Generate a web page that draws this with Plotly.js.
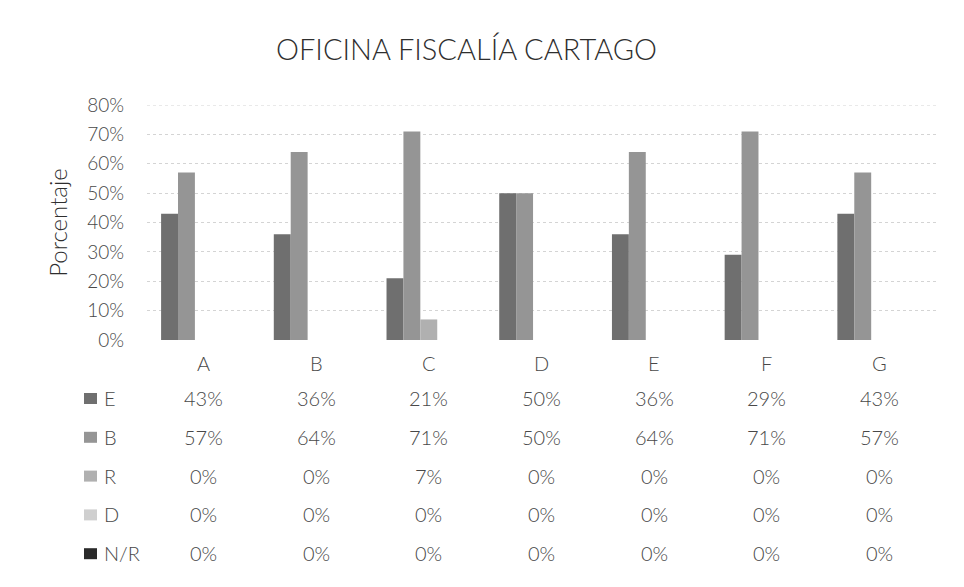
<!DOCTYPE html>
<html>
<head>
<meta charset="utf-8">
<script src="https://cdn.plot.ly/plotly-3.0.1.min.js"></script>
<style>html,body{margin:0;padding:0;background:#fff;}#chart{width:964px;height:587px;}</style>
</head>
<body>
<div id="chart"></div>
<script>
// ---- data ----
const categories = ["A", "B", "C", "D", "E", "F", "G"];
const seriesNames = ["E", "B", "R", "D", "N/R"];
const valuesE  = [0.43, 0.36, 0.21, 0.50, 0.36, 0.29, 0.43];
const valuesB  = [0.57, 0.64, 0.71, 0.50, 0.64, 0.71, 0.57];
const valuesR  = [0.00, 0.00, 0.07, 0.00, 0.00, 0.00, 0.00];
const valuesD  = [0.00, 0.00, 0.00, 0.00, 0.00, 0.00, 0.00];
const valuesNR = [0.00, 0.00, 0.00, 0.00, 0.00, 0.00, 0.00];
const yTickVals = [0, 0.1, 0.2, 0.3, 0.4, 0.5, 0.6, 0.7, 0.8];
const yTickText = ["0%", "10%", "20%", "30%", "40%", "50%", "60%", "70%", "80%"];
const chartTitle = "OFICINA FISCALÍA CARTAGO";
const yTitle = "Porcentaje";

// ---- styling ----
const allValues = [valuesE, valuesB, valuesR, valuesD, valuesNR];
const colors = ["#6f6f6f", "#959595", "#b0b0b0", "#cfcfcf", "#2a2a2a"];
const FONT = "Lato, 'Open Sans', sans-serif";
const textColor = "#484848";
const W = 300;

const plotTop = 105, plotBottom = 340, plotH = plotBottom - plotTop;
const plotLeft = 147, plotW = 789;
const py = p => (plotBottom - p) / plotH;   // pixel y -> paper y
const px = p => (p - plotLeft) / plotW;     // pixel x -> paper x

const traces = allValues.map((vals, i) => ({
  type: "bar",
  name: seriesNames[i],
  x: categories,
  y: vals,
  marker: {color: colors[i], line: {width: 0}},
  hoverinfo: "x+y+name",
  showlegend: false
}));

const annotations = [];
const shapes = [];
// top gridline (80%)
shapes.push({type: "line", xref: "paper", yref: "y", x0: 0, x1: 1, y0: 0.8, y1: 0.8,
  line: {color: "#d4d4d4", width: 1, dash: "dot"}});
// category header row
categories.forEach(c => annotations.push({
  xref: "x", yref: "paper", x: c, y: py(363), text: c, showarrow: false,
  font: {family: FONT, size: 20, color: textColor, weight: W}, xanchor: "center", yanchor: "middle"
}));
// data rows
const rowStart = 398, rowStep = 38.8;
seriesNames.forEach((name, i) => {
  const ry = rowStart + i * rowStep;
  annotations.push({
    xref: "paper", yref: "paper", x: px(102), y: py(ry), text: name, showarrow: false,
    font: {family: FONT, size: 20, color: textColor, weight: W}, xanchor: "left", yanchor: "middle"
  });
  shapes.push({
    type: "rect", xref: "paper", yref: "paper",
    x0: px(84), x1: px(97), y0: py(ry - 5), y1: py(ry + 6),
    fillcolor: colors[i], line: {width: 0}
  });
  allValues[i].forEach((v, j) => annotations.push({
    xref: "x", yref: "paper", x: categories[j], y: py(ry),
    text: Math.round(v * 100) + "%", showarrow: false,
    font: {family: FONT, size: 20, color: textColor, weight: W}, xanchor: "center", yanchor: "middle"
  }));
});

const layout = {
  width: 964, height: 587,
  paper_bgcolor: "#ffffff", plot_bgcolor: "#ffffff",
  margin: {l: plotLeft, r: 964 - plotLeft - plotW, t: plotTop, b: 587 - plotBottom},
  barmode: "group", bargap: 0.25, bargroupgap: 0,
  title: {text: chartTitle, x: 0.484, xanchor: "center", y: 0.915, yanchor: "middle",
          font: {family: FONT, size: 29, color: "#2e2e2e", weight: W}},
  xaxis: {showticklabels: false, showgrid: false, zeroline: false, showline: false,
          ticks: "", fixedrange: true},
  yaxis: {range: [0, 0.8], tickvals: yTickVals, ticktext: yTickText,
          showgrid: true, gridcolor: "#d4d4d4", griddash: "dot", gridwidth: 1,
          zeroline: false, showline: false, ticks: "", ticklabelstandoff: 22,
          tickfont: {family: FONT, size: 19, color: textColor, weight: W},
          title: {text: yTitle, standoff: 12, font: {family: FONT, size: 24, color: "#2e2e2e", weight: W}}},
  annotations: annotations,
  shapes: shapes,
  showlegend: false
};

Plotly.newPlot("chart", traces, layout, {staticPlot: true, displayModeBar: false});
</script>
</body>
</html>
